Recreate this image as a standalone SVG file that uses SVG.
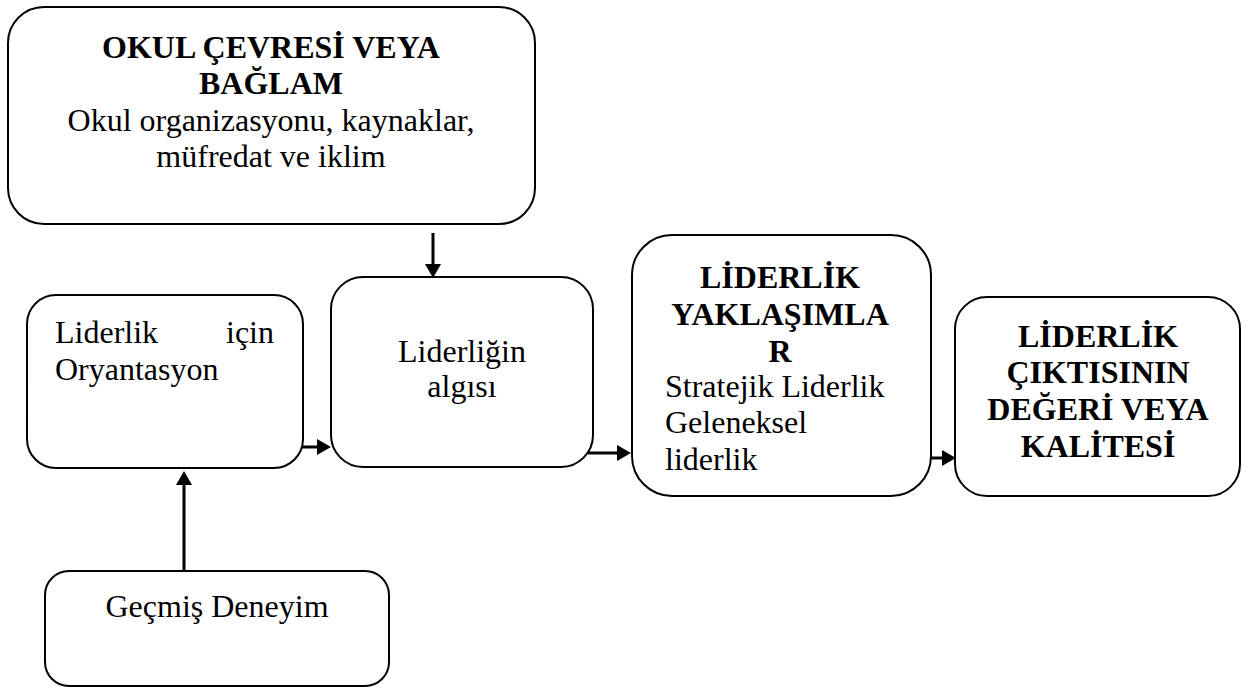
<svg xmlns="http://www.w3.org/2000/svg" width="1259" height="688" viewBox="0 0 1259 688">
<style>
.box{fill:#fff;stroke:#000;stroke-width:2}
.t{font-family:"Liberation Serif","Times New Roman",serif;font-size:32px;fill:#000}
.b{font-weight:bold}
.c{text-anchor:middle}
.e{text-anchor:end}
.conn{stroke:#000;stroke-width:3;fill:none}
</style>
<defs>
<marker id="ah" markerUnits="userSpaceOnUse" markerWidth="15" markerHeight="16" refX="0" refY="8" orient="auto">
<path d="M0,0 L14,8 L0,16 z" fill="#000"/>
</marker>
</defs>
<rect width="1259" height="688" fill="#fff"/>
<g id="connectors">
<line class="conn" x1="433" y1="233" x2="433" y2="264" marker-end="url(#ah)"/>
<line class="conn" x1="184" y1="571" x2="184" y2="485" marker-end="url(#ah)"/>
<line class="conn" x1="302" y1="447" x2="317" y2="447" marker-end="url(#ah)"/>
<line class="conn" x1="588" y1="453" x2="617" y2="453" marker-end="url(#ah)"/>
<line class="conn" x1="930" y1="458" x2="942" y2="458" marker-end="url(#ah)"/>
</g>
<g id="node-context">
<rect class="box" x="8" y="7" width="527" height="217" rx="36"/>
<text class="t b c" x="271" y="58">OKUL ÇEVRESİ VEYA</text>
<text class="t b c" x="271" y="94">BAĞLAM</text>
<text class="t c" x="271" y="131">Okul organizasyonu, kaynaklar,</text>
<text class="t c" x="271" y="167">müfredat ve iklim</text>
</g>
<g id="node-orientation">
<rect class="box" x="27" y="295" width="276" height="173" rx="29"/>
<text class="t" x="55" y="343">Liderlik</text>
<text class="t e" x="274" y="343">için</text>
<text class="t" x="55" y="380">Oryantasyon</text>
</g>
<g id="node-perception">
<rect class="box" x="331" y="277" width="262" height="190" rx="32"/>
<text class="t c" x="462" y="362">Liderliğin</text>
<text class="t c" x="462" y="397">algısı</text>
</g>
<g id="node-approaches">
<rect class="box" x="632" y="235" width="299" height="261" rx="40"/>
<text class="t b c" x="780" y="288">LİDERLİK</text>
<text class="t b c" x="780" y="325">YAKLAŞIMLA</text>
<text class="t b c" x="780" y="362">R</text>
<text class="t" x="665" y="397">Stratejik Liderlik</text>
<text class="t" x="665" y="433">Geleneksel</text>
<text class="t" x="665" y="470">liderlik</text>
</g>
<g id="node-outcome">
<rect class="box" x="955" y="297" width="285" height="199" rx="32"/>
<text class="t b c" x="1098" y="347">LİDERLİK</text>
<text class="t b c" x="1098" y="383">ÇIKTISININ</text>
<text class="t b c" x="1098" y="420">DEĞERİ VEYA</text>
<text class="t b c" x="1098" y="457">KALİTESİ</text>
</g>
<g id="node-experience">
<rect class="box" x="45" y="571" width="344" height="115" rx="24"/>
<text class="t c" x="217" y="617">Geçmiş Deneyim</text>
</g>
</svg>
